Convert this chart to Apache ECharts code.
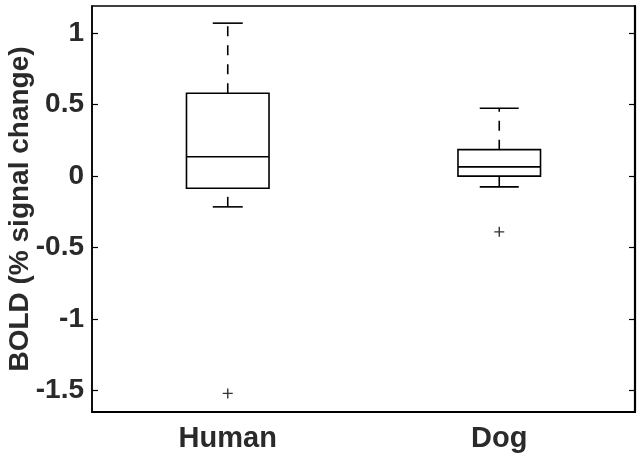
<!DOCTYPE html>
<html><head><meta charset="utf-8">
<script src="https://cdn.jsdelivr.net/npm/echarts@6/dist/echarts.min.js"></script>
<style>html,body{margin:0;padding:0;background:#fff}#c{width:642px;height:462px}</style>
</head><body><div id="c"></div>
<script>
// ---- data ----
const categories = ['Human', 'Dog'];
const whiskerLow = [-0.215, -0.075];
const q1 = [-0.085, 0.0];
const median = [0.135, 0.065];
const q3 = [0.58, 0.185];
const whiskerHigh = [1.07, 0.475];
const outlierCategory = [0, 1];
const outlierValue = [-1.52, -0.39];
const yTickValues = [-1.5, -1, -0.5, 0, 0.5, 1];
const yMin = -1.65;
const yMax = 1.19;

// ---- style ----
const FONT = '"Liberation Sans", Arial, Helvetica, sans-serif';
const TEXT = '#2a2a2a';
const LW = 1.6;
const CAP_W = [30, 39];
const BOX_RATIO = 0.304;

const chart = echarts.init(document.getElementById('c'), null, {renderer: 'canvas'});

const boxData = categories.map((c, i) => [i, whiskerLow[i], q1[i], median[i], q3[i], whiskerHigh[i]]);
const outlierData = outlierCategory.map((c, i) => [c, outlierValue[i]]);

function renderBox(params, api) {
  const i = api.value(0);
  const pLow = api.coord([i, api.value(1)]);
  const pQ1 = api.coord([i, api.value(2)]);
  const pMed = api.coord([i, api.value(3)]);
  const pQ3 = api.coord([i, api.value(4)]);
  const pHigh = api.coord([i, api.value(5)]);
  const x = pLow[0];
  const bw = api.size([1, 0])[0] * BOX_RATIO;
  const ch = CAP_W[params.dataIndex] / 2;
  const solid = {stroke: '#000', lineWidth: LW, fill: null};
  const dashed = {stroke: '#000', lineWidth: LW, fill: null, lineDash: [10, 9]};
  return {
    type: 'group',
    children: [
      {type: 'line', shape: {x1: x, y1: pLow[1], x2: x, y2: pQ1[1]}, style: dashed},
      {type: 'line', shape: {x1: x, y1: pQ3[1], x2: x, y2: pHigh[1]}, style: dashed},
      {type: 'line', shape: {x1: x - ch, y1: pLow[1], x2: x + ch, y2: pLow[1]}, style: solid},
      {type: 'line', shape: {x1: x - ch, y1: pHigh[1], x2: x + ch, y2: pHigh[1]}, style: solid},
      {type: 'rect', shape: {x: x - bw / 2, y: pQ3[1], width: bw, height: pQ1[1] - pQ3[1]}, style: solid},
      {type: 'line', shape: {x1: x - bw / 2, y1: pMed[1], x2: x + bw / 2, y2: pMed[1]}, style: solid}
    ]
  };
}

const option = {
  backgroundColor: '#fff',
  animation: false,
  grid: {left: 92, right: 7, top: 6, bottom: 50, containLabel: false, outerBoundsMode: 'none',
         show: true, borderColor: '#000', borderWidth: 1.5, backgroundColor: 'transparent'},
  xAxis: [{
    type: 'category', data: categories, boundaryGap: true, position: 'bottom',
    axisLine: {show: true, onZero: false, lineStyle: {color: '#000', width: 2.2}},
    axisTick: {show: false},
    axisLabel: {color: TEXT, fontFamily: FONT, fontWeight: 'bold', fontSize: 29, margin: 12},
    splitLine: {show: false}
  }],
  yAxis: [{
    type: 'value', min: yMin, max: yMax, position: 'left',
    name: 'BOLD (% signal change)', nameLocation: 'middle', nameGap: 58, nameMoveOverlap: false,
    nameTextStyle: {color: TEXT, fontFamily: FONT, fontWeight: 'bold', fontSize: 28},
    axisLine: {show: true, onZero: false, lineStyle: {color: '#000', width: 1.5}},
    axisTick: {show: true, inside: true, length: 6, customValues: yTickValues, lineStyle: {color: '#000', width: 1.2}},
    axisLabel: {show: true, customValues: yTickValues, color: TEXT, fontFamily: FONT, fontWeight: 'bold', fontSize: 28, margin: 8},
    splitLine: {show: false}
  }, {
    type: 'value', min: yMin, max: yMax, position: 'right',
    axisLine: {show: true, onZero: false, lineStyle: {color: '#000', width: 2.2}},
    axisTick: {show: true, inside: true, length: 6, customValues: yTickValues, lineStyle: {color: '#000', width: 1.2}},
    axisLabel: {show: false, customValues: yTickValues},
    splitLine: {show: false}
  }],
  series: [{
    type: 'custom', renderItem: renderBox, data: boxData, xAxisIndex: 0, yAxisIndex: 0,
    encode: {x: 0, y: [1, 2, 3, 4, 5]}, silent: true
  }, {
    type: 'scatter', data: outlierData, xAxisIndex: 0, yAxisIndex: 0, silent: true,
    symbol: 'path://M4.3,0 H5.7 V4.3 H10 V5.7 H5.7 V10 H4.3 V5.7 H0 V4.3 H4.3 Z',
    symbolSize: 10, itemStyle: {color: '#000'}
  }]
};
chart.setOption(option);
</script>
</body></html>
